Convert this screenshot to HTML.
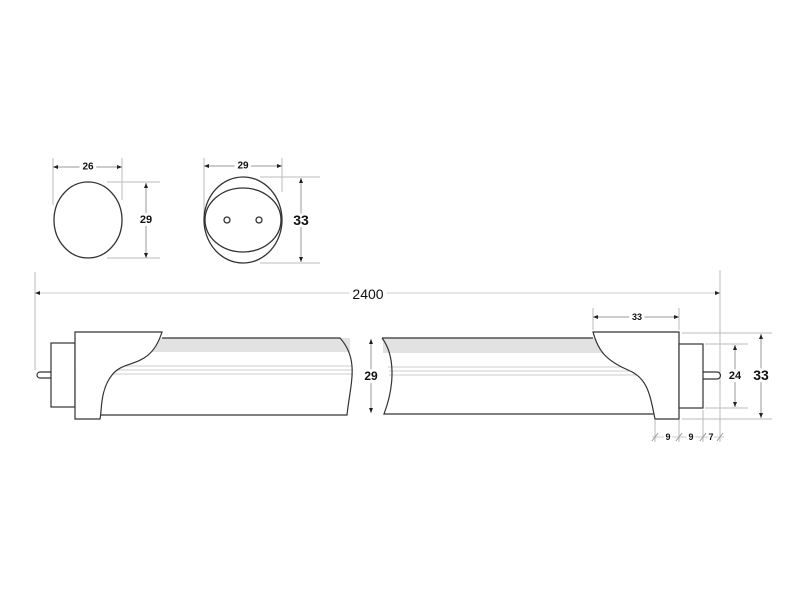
<!DOCTYPE html>
<html><head><meta charset="utf-8"><style>
html,body{margin:0;padding:0;background:#fff;width:800px;height:600px;overflow:hidden}
svg{display:block}
text{font-family:"Liberation Sans",Arial,sans-serif;font-weight:bold;fill:#111;text-anchor:middle;dominant-baseline:central}
</style></head><body>
<svg width="800" height="600" viewBox="0 0 800 600" xmlns="http://www.w3.org/2000/svg">
<defs>
<marker id="a" viewBox="0 0 10 10" refX="10" refY="5" markerWidth="5" markerHeight="5" orient="auto-start-reverse"><path d="M0,1 L10,5 L0,9z" fill="#222"/></marker>
</defs>
<g stroke="#bbb" stroke-width="1" fill="none">
<!-- ext lines small views -->
<line x1="53" y1="158" x2="53" y2="205"/><line x1="122" y1="158" x2="122" y2="200"/>
<line x1="107" y1="182" x2="160" y2="182"/><line x1="107" y1="258" x2="160" y2="258"/>
<line x1="204" y1="158" x2="204" y2="215"/><line x1="282" y1="158" x2="282" y2="192"/>
<line x1="260" y1="177" x2="320" y2="177"/><line x1="260" y1="263" x2="320" y2="263"/>
<!-- 2400 -->
<line x1="35" y1="272" x2="35" y2="370"/><line x1="720" y1="270" x2="720" y2="442"/>
<!-- right dims -->
<line x1="593" y1="308" x2="593" y2="330"/><line x1="679" y1="308" x2="679" y2="330"/>
<line x1="705" y1="344" x2="748" y2="344"/><line x1="705" y1="408" x2="748" y2="408"/>
<line x1="682" y1="333" x2="772" y2="333"/><line x1="682" y1="419" x2="772" y2="419"/>
<line x1="655" y1="420" x2="655" y2="442"/><line x1="679" y1="420" x2="679" y2="442"/><line x1="703" y1="410" x2="703" y2="442"/>
</g>
<g stroke="#999" stroke-width="1" fill="none">
<line x1="53" y1="167" x2="122" y2="167" marker-start="url(#a)" marker-end="url(#a)"/>
<line x1="146" y1="183" x2="146" y2="258" marker-start="url(#a)" marker-end="url(#a)"/>
<line x1="204" y1="166" x2="282" y2="166" marker-start="url(#a)" marker-end="url(#a)"/>
<line x1="301" y1="178" x2="301" y2="262" marker-start="url(#a)" marker-end="url(#a)"/>
<line x1="35" y1="293" x2="720" y2="293" stroke="#ccc" marker-start="url(#a)" marker-end="url(#a)"/>
<line x1="371" y1="339" x2="371" y2="413" marker-start="url(#a)" marker-end="url(#a)"/>
<line x1="593" y1="317" x2="679" y2="317" marker-start="url(#a)" marker-end="url(#a)"/>
<line x1="735" y1="345" x2="735" y2="407" marker-start="url(#a)" marker-end="url(#a)"/>
<line x1="761" y1="334" x2="761" y2="418" marker-start="url(#a)" marker-end="url(#a)"/>
<line x1="652" y1="437" x2="724" y2="437" stroke="#ccc"/>
<path d="M652,441 L658,433 M676,441 L682,433 M700,441 L706,433 M717,441 L723,433"/>
</g>
<!-- end views -->
<g stroke="#333" stroke-width="1.3" fill="none">
<ellipse cx="88" cy="220" rx="34" ry="38"/>
<ellipse cx="243" cy="220" rx="39" ry="43"/>
<ellipse cx="243" cy="220" rx="38" ry="32"/>
<circle cx="227" cy="220" r="3"/><circle cx="259" cy="220" r="3"/>
</g>
<!-- left tube -->
<rect x="95" y="338" width="255" height="14" fill="#e2e2e2"/>
<rect x="383" y="338" width="220" height="15" fill="#e2e2e2"/>
<g stroke="#ccc" stroke-width="1">
<line x1="110" y1="366" x2="352" y2="366"/><line x1="105" y1="370" x2="353" y2="370"/><line x1="102" y1="374" x2="353" y2="374"/>
<line x1="388" y1="367" x2="630" y2="367"/><line x1="389" y1="371" x2="640" y2="371"/><line x1="389" y1="375" x2="642" y2="375"/>
</g>
<g stroke="#333" stroke-width="1.2" fill="none">
<path d="M40,372 L51,372 M40,378 L51,378 M40,372 A3,3 0 0 0 40,378"/>
<rect x="51" y="343" width="24" height="64" fill="#fff"/>
<path d="M75,332 L162,332 C150,370 125,358 112,375 C100,390 102,410 100,419 L75,419 Z" fill="#fff"/>
<path d="M162,338 L340,338 C360,360 350,385 347,415 L100,415"/>
<path d="M382,338 L593,338 M382,338 C395,355 395,385 384,414 L655,414"/>
<path d="M593,332 L679,332 L679,419 L655,419 C650,395 648,378 628,370 C605,360 598,350 593,332 Z" fill="#fff"/>
<rect x="679" y="344" width="24" height="64" fill="#fff"/>
<path d="M703,372 L717,372 M703,379 L717,379 M717,372 A3.5,3.5 0 0 1 717,379"/>
</g>
<!-- labels -->
<g>
<text x="88" y="167" font-size="10" style="paint-order:stroke" stroke="#fff" stroke-width="6">26</text>
<text x="146" y="220" font-size="11" style="paint-order:stroke" stroke="#fff" stroke-width="6">29</text>
<text x="243" y="166" font-size="10" style="paint-order:stroke" stroke="#fff" stroke-width="6">29</text>
<text x="301" y="220" font-size="14" style="paint-order:stroke" stroke="#fff" stroke-width="6">33</text>
<text x="368" y="294" font-size="14" font-weight="normal" style="paint-order:stroke;font-weight:normal" stroke="#fff" stroke-width="8">2400</text>
<text x="371" y="376" font-size="12" style="paint-order:stroke" stroke="#fff" stroke-width="6">29</text>
<text x="637" y="317" font-size="9" style="paint-order:stroke" stroke="#fff" stroke-width="6">33</text>
<text x="735" y="376" font-size="11" style="paint-order:stroke" stroke="#fff" stroke-width="6">24</text>
<text x="761" y="375" font-size="14" style="paint-order:stroke" stroke="#fff" stroke-width="6">33</text>
<text x="668" y="437" font-size="9" style="paint-order:stroke" stroke="#fff" stroke-width="4">9</text>
<text x="691" y="437" font-size="9" style="paint-order:stroke" stroke="#fff" stroke-width="4">9</text>
<text x="711" y="437" font-size="9" style="paint-order:stroke" stroke="#fff" stroke-width="4">7</text>
</g>
</svg>
</body></html>
